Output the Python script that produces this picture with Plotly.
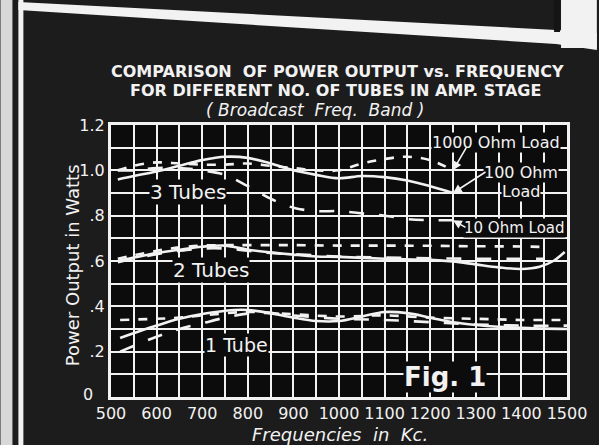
import plotly.graph_objects as go

# ---- data (power output in watts vs. frequency in kc) ----
f3_1000 = [515, 550, 600, 650, 700, 750, 800, 850, 900, 950, 1000, 1050, 1100, 1150, 1200, 1250]
p3_1000 = [1.00, 1.02, 1.035, 1.03, 1.025, 1.025, 1.03, 1.02, 1.01, 1.00, 1.00, 1.03, 1.05, 1.06, 1.045, 1.00]
f3_100 = [515, 550, 600, 650, 700, 750, 800, 850, 900, 950, 1000, 1050, 1100, 1150, 1200, 1250]
p3_100 = [0.96, 0.975, 0.995, 1.02, 1.045, 1.06, 1.055, 1.03, 1.00, 0.98, 0.965, 0.975, 0.97, 0.955, 0.93, 0.90]
f3_10 = [515, 550, 600, 650, 700, 750, 800, 850, 900, 950, 1000, 1050, 1100, 1150, 1200, 1250]
p3_10 = [1.00, 1.00, 1.01, 1.01, 1.00, 0.98, 0.93, 0.875, 0.835, 0.82, 0.82, 0.81, 0.80, 0.785, 0.78, 0.78]

f2_1000 = [515, 550, 600, 650, 700, 750, 800, 900, 1000, 1100, 1200, 1300, 1400, 1450]
p2_1000 = [0.61, 0.625, 0.645, 0.66, 0.668, 0.67, 0.67, 0.67, 0.668, 0.668, 0.667, 0.665, 0.664, 0.662]
f2_100 = [515, 550, 600, 650, 700, 750, 800, 850, 900, 950, 1000, 1100, 1200, 1250, 1300, 1350, 1400, 1440, 1470, 1495]
p2_100 = [0.60, 0.615, 0.635, 0.65, 0.663, 0.668, 0.65, 0.638, 0.628, 0.62, 0.618, 0.61, 0.605, 0.598, 0.585, 0.572, 0.565, 0.575, 0.60, 0.64]
f2_10 = [515, 550, 600, 650, 700, 750, 800, 850, 900, 1000, 1100, 1200, 1300, 1400, 1450]
p2_10 = [0.595, 0.61, 0.63, 0.645, 0.655, 0.655, 0.645, 0.635, 0.63, 0.62, 0.615, 0.612, 0.61, 0.61, 0.61]

f1_1000 = [520, 600, 650, 700, 800, 900, 1000, 1100, 1200, 1300, 1400, 1500]
p1_1000 = [0.34, 0.345, 0.35, 0.36, 0.375, 0.365, 0.355, 0.36, 0.35, 0.345, 0.34, 0.34]
f1_100 = [520, 600, 650, 700, 770, 800, 850, 900, 950, 1000, 1050, 1100, 1150, 1200, 1250, 1300, 1350, 1400, 1500]
p1_100 = [0.26, 0.315, 0.345, 0.366, 0.384, 0.384, 0.37, 0.35, 0.335, 0.335, 0.355, 0.375, 0.37, 0.35, 0.33, 0.318, 0.31, 0.305, 0.30]
f1_10 = [520, 600, 650, 700, 750, 800, 850, 900, 1000, 1100, 1200, 1300, 1400, 1500]
p1_10 = [0.20, 0.266, 0.30, 0.325, 0.35, 0.368, 0.37, 0.36, 0.345, 0.34, 0.33, 0.32, 0.315, 0.315]

x_ticks = [500, 600, 700, 800, 900, 1000, 1100, 1200, 1300, 1400, 1500]
y_ticks = [0.2, 0.4, 0.6, 0.8, 1.0, 1.2]
y_tick_text = [".2", ".4", ".6", ".8", "1.0", "1.2"]

INK = "#f2f2f2"
PLOT_BG = "#0c0c0c"
PAPER_BG = "#1c1c1c"
FONT = "DejaVu Sans"

series = [
    (f3_1000, p3_1000, "dash"), (f3_100, p3_100, "solid"), (f3_10, p3_10, "longdash"),
    (f2_1000, p2_1000, "dash"), (f2_100, p2_100, "solid"), (f2_10, p2_10, "longdash"),
    (f1_1000, p1_1000, "dash"), (f1_100, p1_100, "solid"), (f1_10, p1_10, "longdash"),
]

fig = go.Figure()
for fx, py, dash in series:
    fig.add_trace(go.Scatter(
        x=fx, y=py, mode="lines",
        line=dict(color=INK, width=2.6, dash=dash, shape="spline", smoothing=1.0),
        showlegend=False, hoverinfo="skip",
    ))

# plot area geometry in pixels, used to place frame decorations
L, R, T, B = 111, 569, 125, 397
W, H = R - L, B - T


def px(x):
    return (x - L) / W


def py_(y):
    return (B - y) / H


def poly(points):
    p = "M " + " L ".join(f"{px(x):.4f},{py_(y):.4f}" for x, y in points) + " Z"
    return p


shapes = [
    # page frame: left strip and rule
    dict(type="rect", xref="paper", yref="paper", x0=px(0), x1=px(12), y0=py_(445), y1=py_(0),
         fillcolor="#d8d8d8", line_width=0, layer="below"),
    dict(type="rect", xref="paper", yref="paper", x0=px(18), x1=px(23), y0=py_(445), y1=py_(0),
         fillcolor=INK, line_width=0, layer="below"),
    # slanted bottom edge of the header panel
    dict(type="path", xref="paper", yref="paper",
         path=poly([(18, 2), (558, 30), (599, 33), (599, 50), (558, 44), (18, 10)]),
         fillcolor=INK, line_width=0, layer="below"),
    dict(type="rect", xref="paper", yref="paper", x0=px(563), x1=px(599), y0=py_(48), y1=py_(0),
         fillcolor=INK, line_width=0, layer="below"),
    dict(type="rect", xref="paper", yref="paper", x0=px(556), x1=px(562), y0=py_(32), y1=py_(0),
         fillcolor="#151515", line_width=0, layer="below"),
]

annotations = []


def label(text, x, y, size=15, xref="x", yref="y", bg=PLOT_BG, **kw):
    annotations.append(dict(text=text, x=x, y=y, xref=xref, yref=yref, showarrow=False,
                            xanchor="center", yanchor="middle",
                            font=dict(family=FONT, size=size, color=INK),
                            bgcolor=bg, borderpad=0, **kw))


def arrow(x, y, ax, ay):
    annotations.append(dict(text="", x=x, y=y, xref="x", yref="y", ax=ax, ay=ay,
                            showarrow=True, arrowhead=2, arrowsize=1.1, arrowwidth=1.6,
                            arrowcolor=INK))


CLEAR = "rgba(0,0,0,0)"

# titles
label("<b>COMPARISON  OF POWER OUTPUT vs. FREQUENCY</b>", px(338), py_(71), size=16,
      xref="paper", yref="paper", bg=CLEAR)
label("<b>FOR DIFFERENT NO. OF TUBES IN AMP. STAGE</b>", px(336), py_(90), size=16,
      xref="paper", yref="paper", bg=CLEAR)
label("<i>( Broadcast  Freq.  Band )</i>", px(316), py_(110), size=17,
      xref="paper", yref="paper", bg=CLEAR)
label("Power Output in Watts", px(72), py_(265), size=18, xref="paper", yref="paper",
      bg=CLEAR, textangle=-90)
label("<i>Frequencies  in  Kc.</i>", px(341), py_(434), size=18, xref="paper", yref="paper",
      bg=CLEAR)
# zero of the power scale sits just left of the corner
label("0", px(88), py_(394), size=16, xref="paper", yref="paper", bg=CLEAR)

# curve group labels
label("3 Tubes", 668, 0.905, size=20)
label("2 Tubes", 720, 0.56, size=20)
label("1 Tube", 775, 0.23, size=19)
label("1000 Ohm Load", 1345, 1.125, size=16)
label("100 Ohm", 1400, 0.99, size=16)
label("Load", 1400, 0.905, size=16)
label("10 Ohm Load", 1385, 0.745, size=15)
label("<b>Fig. 1</b>", 1233, 0.088, size=26)

arrow(1250, 1.0, 14, -24)
arrow(1250, 0.90, 34, -22)
arrow(1250, 0.78, 14, 8)

fig.update_layout(
    width=599, height=445,
    margin=dict(l=L, r=599 - R, t=T, b=445 - B),
    paper_bgcolor=PAPER_BG, plot_bgcolor=PLOT_BG,
    font=dict(family=FONT, color=INK, size=15),
    shapes=shapes, annotations=annotations,
    xaxis=dict(range=[500, 1500], tickvals=x_ticks, ticktext=[str(v) for v in x_ticks],
               showgrid=True, gridcolor=INK, gridwidth=1.8,
               minor=dict(dtick=50, showgrid=True, gridcolor=INK, gridwidth=1.8),
               zeroline=False, showline=True, linecolor=INK, linewidth=3, mirror=True,
               ticks="", tickfont=dict(size=16, color=INK)),
    yaxis=dict(range=[0, 1.2], tickvals=y_ticks, ticktext=y_tick_text,
               showgrid=True, gridcolor=INK, gridwidth=1.8,
               minor=dict(dtick=0.1, showgrid=True, gridcolor=INK, gridwidth=1.8),
               zeroline=False, showline=True, linecolor=INK, linewidth=3, mirror=True,
               ticks="", tickfont=dict(size=16, color=INK)),
)

fig.write_html("out.html")
